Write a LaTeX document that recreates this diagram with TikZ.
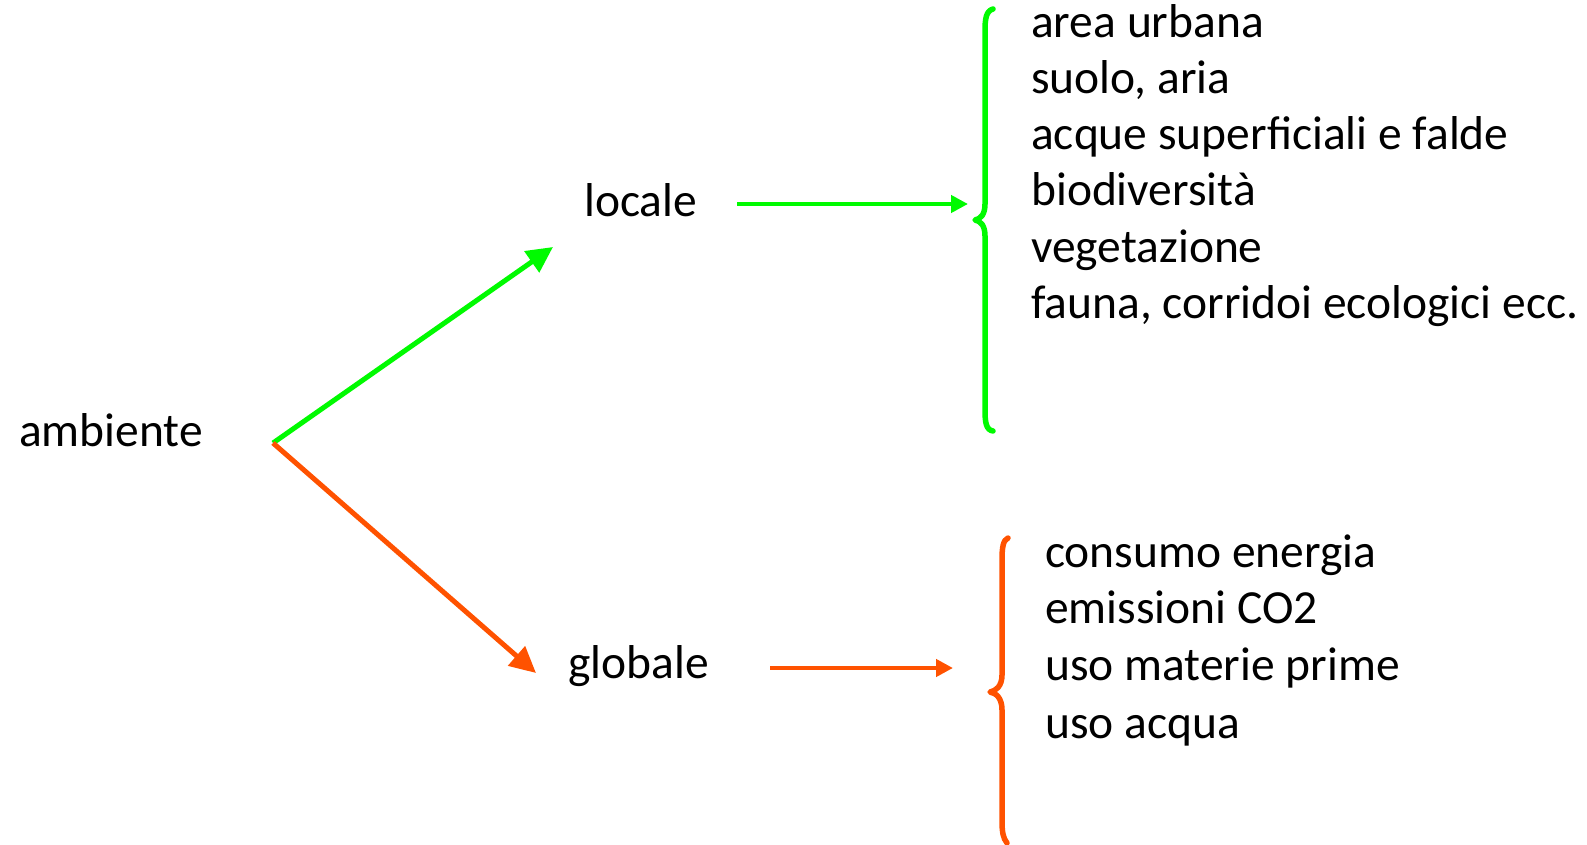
\documentclass[tikz,border=0pt]{standalone}
\usepackage{fontspec}
\setmainfont{Carlito}
\usetikzlibrary{arrows.meta}
\definecolor{lgreen}{RGB}{0,250,0}
\definecolor{lorange}{RGB}{255,82,0}
\tikzset{
  txt/.style={anchor=base west,inner sep=0pt,font=\fontsize{47.5}{57}\selectfont},
  diagarrow/.style={line width=5pt,-{Triangle[length=26pt,width=25pt]}},
  horarrow/.style={line width=4.5pt,-{Triangle[length=17pt,width=17pt]}},
  bracestyle/.style={line width=5.5pt,line cap=round,line join=round}
}
\begin{document}
\begin{tikzpicture}[x=1pt,y=-1pt]
\useasboundingbox (0,0) rectangle (1587,845);
% texts
\node[txt] (amb) at (19,446) {ambiente};
\node[txt] (loc) at (584,216) {locale};
\node[txt] (glob) at (568,678) {globale};
\node[txt] (a1) at (1031,38) {area urbana};
\node[txt] (a2) at (1031,94) {suolo, aria};
\node[txt] (a3) at (1031,150) {acque superficiali e falde};
\node[txt] (a4) at (1031,206) {biodiversità};
\node[txt] (a5) at (1031,262) {vegetazione};
\node[txt] (a6) at (1031,318) {fauna, corridoi ecologici ecc.};
\node[txt] (b1) at (1045,567) {consumo energia};
\node[txt] (b2) at (1045,623) {emissioni CO2};
\node[txt] (b3) at (1045,680) {uso materie prime};
\node[txt] (b4) at (1045,738) {uso acqua};
% connector coordinates
\coordinate (root) at (273,443);
\coordinate (locin) at (553,247);
\coordinate (globin) at (536,673);
\coordinate (locout) at (737,204);
\coordinate (locbr) at (968,204);
\coordinate (globout) at (770,668);
\coordinate (globbr) at (953,668);
% arrows
\draw[diagarrow,lgreen] (root) -- (locin);
\draw[diagarrow,lorange] (root) -- (globin);
\draw[horarrow,lgreen] (locout) -- (locbr);
\draw[horarrow,lorange] (globout) -- (globbr);
% braces
\draw[bracestyle,lgreen] (993,9) .. controls (986,11) and (985,19) .. (985,31) -- (985,204)
  .. controls (985,214) and (981,219) .. (975,220)
  .. controls (981,221) and (985,226) .. (985,236) -- (985,410)
  .. controls (985,422) and (986,430) .. (993,431);
\draw[bracestyle,lorange] (1008,538) .. controls (1003,540) and (1002,548) .. (1002,560) -- (1002,675)
  .. controls (1002,686) and (996,691) .. (990,692)
  .. controls (996,693) and (1002,698) .. (1002,710) -- (1002,820)
  .. controls (1002,832) and (1003,838) .. (1007,843);
\end{tikzpicture}
\end{document}
